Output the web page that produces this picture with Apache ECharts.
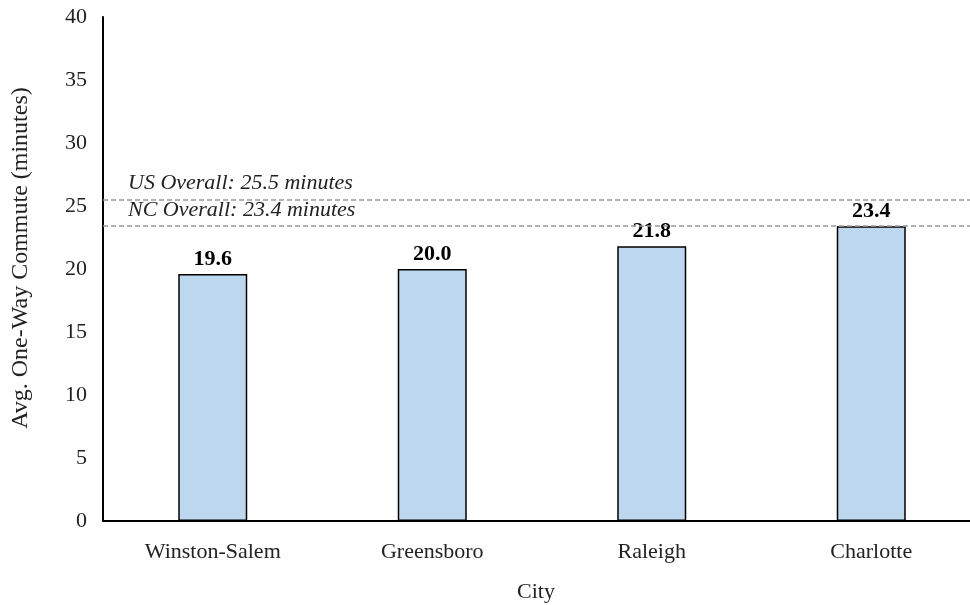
<!DOCTYPE html>
<html>
<head>
<meta charset="utf-8">
<script src="https://cdn.jsdelivr.net/npm/echarts@6/dist/echarts.min.js"></script>
<style>
  html, body { margin: 0; padding: 0; background: #fff; }
  #chart { width: 970px; height: 605px; }
</style>
</head>
<body>
<div id="chart"></div>
<script>
// Average one-way commute time by city
const cities = ['Winston-Salem', 'Greensboro', 'Raleigh', 'Charlotte'];
const commuteMinutes = [19.6, 20.0, 21.8, 23.4];

// Reference averages drawn as dashed lines
const refNames = ['US Overall', 'NC Overall'];
const refValues = [25.5, 23.4];

const serif = '"Liberation Serif", "Times New Roman", serif';

const chart = echarts.init(document.getElementById('chart'), null, { renderer: 'canvas' });

chart.setOption({
  animation: false,
  backgroundColor: '#ffffff',
  grid: { left: 103, right: -11, top: 17, bottom: 84, containLabel: false, outerBoundsMode: 'none' },
  xAxis: {
    type: 'category',
    data: cities,
    name: 'City',
    nameLocation: 'middle',
    nameGap: 60,
    nameTextStyle: { fontFamily: serif, fontSize: 22, color: '#222', padding: [0, 12, 0, 0] },
    axisLine: { lineStyle: { color: '#000', width: 2 } },
    axisTick: { show: false },
    axisLabel: { fontFamily: serif, fontSize: 22, color: '#222', margin: 20 }
  },
  yAxis: {
    type: 'value',
    min: 0,
    max: 40,
    interval: 5,
    name: 'Avg. One-Way Commute (minutes)',
    nameLocation: 'middle',
    nameGap: 70,
    nameTextStyle: { fontFamily: serif, fontSize: 24, color: '#222', padding: [0, 0, 0, 22] },
    axisLine: { show: true, lineStyle: { color: '#000', width: 2 } },
    axisTick: { show: false },
    splitLine: { show: false },
    axisLabel: { fontFamily: serif, fontSize: 22, color: '#222', margin: 16 }
  },
  series: [{
    type: 'bar',
    data: commuteMinutes,
    barWidth: 69,
    itemStyle: { color: '#BDD7EE', borderColor: '#000', borderWidth: 1.5 },
    label: {
      show: true,
      position: 'top',
      distance: 4,
      formatter: p => p.value.toFixed(1),
      fontFamily: serif,
      fontWeight: 'bold',
      fontSize: 22,
      color: '#000'
    },
    markLine: {
      silent: true,
      symbol: 'none',
      lineStyle: { color: '#999', width: 1.5, type: [5, 3] },
      label: {
        position: 'insideStartTop',
        distance: [25, 5],
        fontFamily: serif,
        fontStyle: 'italic',
        fontSize: 22,
        color: '#222'
      },
      data: refValues.map((v, i) => ({
        yAxis: v,
        label: { formatter: refNames[i] + ': ' + v.toFixed(1) + ' minutes' }
      }))
    },
    z: 3
  }]
});
</script>
</body>
</html>
